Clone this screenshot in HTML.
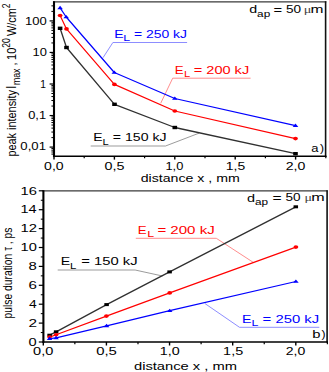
<!DOCTYPE html>
<html><head><meta charset="utf-8"><style>
html,body{margin:0;padding:0;background:#fff;}
body{width:329px;height:372px;overflow:hidden;}
svg{display:block;}
text{font-family:"Liberation Sans",sans-serif;}
</style></head><body>
<svg width="329" height="372" viewBox="0 0 329 372">
<rect width="329" height="372" fill="#fff"/>
<line x1="53.00" y1="1.80" x2="326.30" y2="1.80" stroke="#3a3a3a" stroke-width="1.3"/>
<line x1="325.60" y1="1.20" x2="325.60" y2="157.00" stroke="#111" stroke-width="1.6"/>
<line x1="53.00" y1="156.30" x2="326.40" y2="156.30" stroke="#000" stroke-width="1.5"/>
<line x1="54.00" y1="1.20" x2="54.00" y2="157.10" stroke="#000" stroke-width="2.1"/>
<line x1="51.40" y1="154.10" x2="54.00" y2="154.10" stroke="#000" stroke-width="1.0"/>
<line x1="51.40" y1="151.99" x2="54.00" y2="151.99" stroke="#000" stroke-width="1.0"/>
<line x1="51.40" y1="150.16" x2="54.00" y2="150.16" stroke="#000" stroke-width="1.0"/>
<line x1="51.40" y1="148.54" x2="54.00" y2="148.54" stroke="#000" stroke-width="1.0"/>
<line x1="49.60" y1="147.10" x2="54.00" y2="147.10" stroke="#000" stroke-width="1.2"/>
<line x1="51.40" y1="137.60" x2="54.00" y2="137.60" stroke="#000" stroke-width="1.0"/>
<line x1="51.40" y1="132.05" x2="54.00" y2="132.05" stroke="#000" stroke-width="1.0"/>
<line x1="51.40" y1="128.11" x2="54.00" y2="128.11" stroke="#000" stroke-width="1.0"/>
<line x1="51.40" y1="125.05" x2="54.00" y2="125.05" stroke="#000" stroke-width="1.0"/>
<line x1="51.40" y1="122.55" x2="54.00" y2="122.55" stroke="#000" stroke-width="1.0"/>
<line x1="51.40" y1="120.44" x2="54.00" y2="120.44" stroke="#000" stroke-width="1.0"/>
<line x1="51.40" y1="118.61" x2="54.00" y2="118.61" stroke="#000" stroke-width="1.0"/>
<line x1="51.40" y1="116.99" x2="54.00" y2="116.99" stroke="#000" stroke-width="1.0"/>
<line x1="49.60" y1="115.55" x2="54.00" y2="115.55" stroke="#000" stroke-width="1.2"/>
<line x1="51.40" y1="106.05" x2="54.00" y2="106.05" stroke="#000" stroke-width="1.0"/>
<line x1="51.40" y1="100.50" x2="54.00" y2="100.50" stroke="#000" stroke-width="1.0"/>
<line x1="51.40" y1="96.56" x2="54.00" y2="96.56" stroke="#000" stroke-width="1.0"/>
<line x1="51.40" y1="93.50" x2="54.00" y2="93.50" stroke="#000" stroke-width="1.0"/>
<line x1="51.40" y1="91.00" x2="54.00" y2="91.00" stroke="#000" stroke-width="1.0"/>
<line x1="51.40" y1="88.89" x2="54.00" y2="88.89" stroke="#000" stroke-width="1.0"/>
<line x1="51.40" y1="87.06" x2="54.00" y2="87.06" stroke="#000" stroke-width="1.0"/>
<line x1="51.40" y1="85.44" x2="54.00" y2="85.44" stroke="#000" stroke-width="1.0"/>
<line x1="49.60" y1="84.00" x2="54.00" y2="84.00" stroke="#000" stroke-width="1.2"/>
<line x1="51.40" y1="74.50" x2="54.00" y2="74.50" stroke="#000" stroke-width="1.0"/>
<line x1="51.40" y1="68.95" x2="54.00" y2="68.95" stroke="#000" stroke-width="1.0"/>
<line x1="51.40" y1="65.01" x2="54.00" y2="65.01" stroke="#000" stroke-width="1.0"/>
<line x1="51.40" y1="61.95" x2="54.00" y2="61.95" stroke="#000" stroke-width="1.0"/>
<line x1="51.40" y1="59.45" x2="54.00" y2="59.45" stroke="#000" stroke-width="1.0"/>
<line x1="51.40" y1="57.34" x2="54.00" y2="57.34" stroke="#000" stroke-width="1.0"/>
<line x1="51.40" y1="55.51" x2="54.00" y2="55.51" stroke="#000" stroke-width="1.0"/>
<line x1="51.40" y1="53.89" x2="54.00" y2="53.89" stroke="#000" stroke-width="1.0"/>
<line x1="49.60" y1="52.45" x2="54.00" y2="52.45" stroke="#000" stroke-width="1.2"/>
<line x1="51.40" y1="42.95" x2="54.00" y2="42.95" stroke="#000" stroke-width="1.0"/>
<line x1="51.40" y1="37.40" x2="54.00" y2="37.40" stroke="#000" stroke-width="1.0"/>
<line x1="51.40" y1="33.46" x2="54.00" y2="33.46" stroke="#000" stroke-width="1.0"/>
<line x1="51.40" y1="30.40" x2="54.00" y2="30.40" stroke="#000" stroke-width="1.0"/>
<line x1="51.40" y1="27.90" x2="54.00" y2="27.90" stroke="#000" stroke-width="1.0"/>
<line x1="51.40" y1="25.79" x2="54.00" y2="25.79" stroke="#000" stroke-width="1.0"/>
<line x1="51.40" y1="23.96" x2="54.00" y2="23.96" stroke="#000" stroke-width="1.0"/>
<line x1="51.40" y1="22.34" x2="54.00" y2="22.34" stroke="#000" stroke-width="1.0"/>
<line x1="49.60" y1="20.90" x2="54.00" y2="20.90" stroke="#000" stroke-width="1.2"/>
<line x1="51.40" y1="11.40" x2="54.00" y2="11.40" stroke="#000" stroke-width="1.0"/>
<line x1="51.40" y1="5.85" x2="54.00" y2="5.85" stroke="#000" stroke-width="1.0"/>
<line x1="54.00" y1="156.00" x2="54.00" y2="159.60" stroke="#000" stroke-width="1.4"/>
<line x1="84.20" y1="156.00" x2="84.20" y2="158.30" stroke="#000" stroke-width="1.2"/>
<line x1="114.40" y1="156.00" x2="114.40" y2="159.60" stroke="#000" stroke-width="1.4"/>
<line x1="144.60" y1="156.00" x2="144.60" y2="158.30" stroke="#000" stroke-width="1.2"/>
<line x1="174.80" y1="156.00" x2="174.80" y2="159.60" stroke="#000" stroke-width="1.4"/>
<line x1="205.00" y1="156.00" x2="205.00" y2="158.30" stroke="#000" stroke-width="1.2"/>
<line x1="235.20" y1="156.00" x2="235.20" y2="159.60" stroke="#000" stroke-width="1.4"/>
<line x1="265.40" y1="156.00" x2="265.40" y2="158.30" stroke="#000" stroke-width="1.2"/>
<line x1="295.60" y1="156.00" x2="295.60" y2="159.60" stroke="#000" stroke-width="1.4"/>
<line x1="325.80" y1="156.00" x2="325.80" y2="158.30" stroke="#000" stroke-width="1.2"/>
<text transform="translate(24.92,24.60) scale(1.2825,1)" font-size="10.18" fill="#000">100</text>
<text transform="translate(32.53,55.90) scale(1.2528,1)" font-size="10.32" fill="#000">10</text>
<text transform="translate(40.14,87.70) scale(0.9581,1)" font-size="10.62" fill="#000">1</text>
<text transform="translate(28.18,118.70) scale(1.2157,1)" font-size="10.61" fill="#000">0,1</text>
<text transform="translate(20.37,150.40) scale(1.2382,1)" font-size="10.61" fill="#000">0,01</text>
<text transform="translate(44.04,169.90) scale(1.2936,1)" font-size="10.90" fill="#000">0,0</text>
<text transform="translate(104.43,169.90) scale(1.3171,1)" font-size="10.90" fill="#000">0,5</text>
<text transform="translate(165.44,169.90) scale(1.1782,1)" font-size="10.90" fill="#000">1,0</text>
<text transform="translate(225.75,169.90) scale(1.2629,1)" font-size="11.05" fill="#000">1,5</text>
<text transform="translate(285.69,169.90) scale(1.2965,1)" font-size="10.90" fill="#000">2,0</text>
<text transform="translate(140.70,182.20) scale(1.3157,1)" font-size="10.76" fill="#000">distance x , mm</text>
<text transform="translate(16.00,156.60) scale(1.25,1) rotate(-90)" font-size="10.9" fill="#000">peak intensity</text>
<text transform="translate(15.90,88.70) scale(1.35,1) rotate(-90)" font-size="10.9" fill="#000">I</text>
<text transform="translate(20.40,85.10) scale(1.33,1) rotate(-90)" font-size="8.8" fill="#000">max</text>
<text transform="translate(16.00,65.40) scale(1.25,1) rotate(-90)" font-size="10.9" fill="#000">,</text>
<text transform="translate(16.00,59.90) scale(1.25,1) rotate(-90)" font-size="10.9" fill="#000">10</text>
<text transform="translate(9.90,47.80) scale(1.25,1) rotate(-90)" font-size="8.6" fill="#000">20</text>
<text transform="translate(16.00,36.10) scale(1.25,1) rotate(-90)" font-size="10.9" fill="#000">W/cm</text>
<text transform="translate(9.90,8.30) scale(1.25,1) rotate(-90)" font-size="8.6" fill="#000">2</text>
<text transform="translate(249.20,13.40) scale(1.3052,1)" font-size="10.90" fill="#000">d</text>
<text transform="translate(257.10,16.90) scale(1.3693,1)" font-size="8.60" fill="#000">ap</text>
<text transform="translate(273.40,13.70) scale(1.4066,1)" font-size="10.50" fill="#000">=</text>
<text transform="translate(286.06,13.00) scale(1.2781,1)" font-size="10.61" fill="#000">50</text>
<text transform="translate(303.86,13.00) scale(1.3540,1)" font-size="10.50" fill="#444" style="font-family:'Liberation Serif',serif">μ</text>
<text transform="translate(310.45,13.00) scale(1.4830,1)" font-size="10.50" fill="#000">m</text>
<text transform="translate(311.25,152.30) scale(1.2390,1)" font-size="10.50" fill="#000">a</text>
<text transform="translate(320.01,152.20) scale(1.1500,1)" font-size="10.50" fill="#000">)</text>
<polyline points="103.00,57.70 112.90,42.50 187.10,42.50" fill="none" stroke="#8080ff" stroke-width="0.9" stroke-linejoin="round"/>
<polyline points="160.70,103.30 172.70,78.20 250.60,78.20" fill="none" stroke="#ff8080" stroke-width="0.9" stroke-linejoin="round"/>
<polyline points="90.70,146.00 165.50,146.00 199.20,133.10" fill="none" stroke="#909090" stroke-width="0.9" stroke-linejoin="round"/>
<polyline points="60.10,28.30 66.50,47.50 114.50,104.30 174.80,127.50 295.50,153.70" fill="none" stroke="#303030" stroke-width="1.3" stroke-linejoin="round"/>
<polyline points="60.10,15.50 66.50,28.90 114.40,84.40 174.80,111.00 295.50,138.60" fill="none" stroke="#f00" stroke-width="1.2" stroke-linejoin="round"/>
<polyline points="60.10,7.80 66.20,17.00 114.30,72.50 174.80,98.50 295.50,125.60" fill="none" stroke="#00f" stroke-width="1.2" stroke-linejoin="round"/>
<rect x="57.80" y="26.60" width="4.6" height="3.4" fill="#000"/>
<rect x="64.20" y="45.80" width="4.6" height="3.4" fill="#000"/>
<rect x="112.20" y="102.60" width="4.6" height="3.4" fill="#000"/>
<rect x="172.50" y="125.80" width="4.6" height="3.4" fill="#000"/>
<rect x="293.20" y="152.00" width="4.6" height="3.4" fill="#000"/>
<ellipse cx="60.10" cy="15.50" rx="2.4" ry="1.8" fill="#f00"/>
<ellipse cx="66.50" cy="28.90" rx="2.4" ry="1.8" fill="#f00"/>
<ellipse cx="114.40" cy="84.40" rx="2.4" ry="1.8" fill="#f00"/>
<ellipse cx="174.80" cy="111.00" rx="2.4" ry="1.8" fill="#f00"/>
<ellipse cx="295.50" cy="138.60" rx="2.4" ry="1.8" fill="#f00"/>
<polygon points="60.10,5.76 62.90,9.16 57.30,9.16" fill="#00f"/>
<polygon points="66.20,14.96 69.00,18.36 63.40,18.36" fill="#00f"/>
<polygon points="114.30,70.46 117.10,73.86 111.50,73.86" fill="#00f"/>
<polygon points="174.80,96.46 177.60,99.86 172.00,99.86" fill="#00f"/>
<polygon points="295.50,123.56 298.30,126.96 292.70,126.96" fill="#00f"/>
<text transform="translate(114.14,37.60) scale(1.3342,1)" font-size="10.50" fill="#00f">E</text>
<text transform="translate(123.19,41.00) scale(1.4271,1)" font-size="8.60" fill="#00f">L</text>
<text transform="translate(133.94,37.60) scale(1.3284,1)" font-size="10.50" fill="#00f">= 250 kJ</text>
<text transform="translate(174.81,73.50) scale(1.2640,1)" font-size="10.50" fill="#f00">E</text>
<text transform="translate(184.08,76.60) scale(1.2949,1)" font-size="8.60" fill="#f00">L</text>
<text transform="translate(193.81,73.50) scale(1.3853,1)" font-size="10.50" fill="#f00">= 200 kJ</text>
<text transform="translate(93.24,141.10) scale(1.3342,1)" font-size="10.50" fill="#000">E</text>
<text transform="translate(102.58,144.60) scale(1.2949,1)" font-size="8.60" fill="#000">L</text>
<text transform="translate(112.83,141.10) scale(1.3439,1)" font-size="10.50" fill="#000">= 150 kJ</text>
<line x1="42.50" y1="190.90" x2="327.60" y2="190.90" stroke="#3a3a3a" stroke-width="1.3"/>
<line x1="327.10" y1="190.30" x2="327.10" y2="342.60" stroke="#111" stroke-width="1.6"/>
<line x1="42.50" y1="341.90" x2="327.90" y2="341.90" stroke="#000" stroke-width="1.5"/>
<line x1="43.40" y1="190.30" x2="43.40" y2="342.80" stroke="#000" stroke-width="2.1"/>
<line x1="38.80" y1="342.00" x2="43.40" y2="342.00" stroke="#000" stroke-width="1.2"/>
<line x1="40.80" y1="332.55" x2="43.40" y2="332.55" stroke="#000" stroke-width="1.0"/>
<line x1="38.80" y1="323.10" x2="43.40" y2="323.10" stroke="#000" stroke-width="1.2"/>
<line x1="40.80" y1="313.65" x2="43.40" y2="313.65" stroke="#000" stroke-width="1.0"/>
<line x1="38.80" y1="304.20" x2="43.40" y2="304.20" stroke="#000" stroke-width="1.2"/>
<line x1="40.80" y1="294.75" x2="43.40" y2="294.75" stroke="#000" stroke-width="1.0"/>
<line x1="38.80" y1="285.30" x2="43.40" y2="285.30" stroke="#000" stroke-width="1.2"/>
<line x1="40.80" y1="275.85" x2="43.40" y2="275.85" stroke="#000" stroke-width="1.0"/>
<line x1="38.80" y1="266.40" x2="43.40" y2="266.40" stroke="#000" stroke-width="1.2"/>
<line x1="40.80" y1="256.95" x2="43.40" y2="256.95" stroke="#000" stroke-width="1.0"/>
<line x1="38.80" y1="247.50" x2="43.40" y2="247.50" stroke="#000" stroke-width="1.2"/>
<line x1="40.80" y1="238.05" x2="43.40" y2="238.05" stroke="#000" stroke-width="1.0"/>
<line x1="38.80" y1="228.60" x2="43.40" y2="228.60" stroke="#000" stroke-width="1.2"/>
<line x1="40.80" y1="219.15" x2="43.40" y2="219.15" stroke="#000" stroke-width="1.0"/>
<line x1="38.80" y1="209.70" x2="43.40" y2="209.70" stroke="#000" stroke-width="1.2"/>
<line x1="40.80" y1="200.25" x2="43.40" y2="200.25" stroke="#000" stroke-width="1.0"/>
<line x1="38.80" y1="190.80" x2="43.40" y2="190.80" stroke="#000" stroke-width="1.2"/>
<line x1="43.30" y1="342.00" x2="43.30" y2="345.50" stroke="#000" stroke-width="1.4"/>
<line x1="74.86" y1="342.00" x2="74.86" y2="344.20" stroke="#000" stroke-width="1.2"/>
<line x1="106.42" y1="342.00" x2="106.42" y2="345.50" stroke="#000" stroke-width="1.4"/>
<line x1="137.99" y1="342.00" x2="137.99" y2="344.20" stroke="#000" stroke-width="1.2"/>
<line x1="169.55" y1="342.00" x2="169.55" y2="345.50" stroke="#000" stroke-width="1.4"/>
<line x1="201.11" y1="342.00" x2="201.11" y2="344.20" stroke="#000" stroke-width="1.2"/>
<line x1="232.68" y1="342.00" x2="232.68" y2="345.50" stroke="#000" stroke-width="1.4"/>
<line x1="264.24" y1="342.00" x2="264.24" y2="344.20" stroke="#000" stroke-width="1.2"/>
<line x1="295.80" y1="342.00" x2="295.80" y2="345.50" stroke="#000" stroke-width="1.4"/>
<line x1="327.36" y1="342.00" x2="327.36" y2="344.20" stroke="#000" stroke-width="1.2"/>
<text transform="translate(28.61,345.75) scale(1.3454,1)" font-size="10.90" fill="#000">0</text>
<text transform="translate(28.43,326.85) scale(1.4119,1)" font-size="10.90" fill="#000">2</text>
<text transform="translate(28.89,307.95) scale(1.2539,1)" font-size="11.05" fill="#000">4</text>
<text transform="translate(28.44,289.05) scale(1.3890,1)" font-size="10.90" fill="#000">6</text>
<text transform="translate(28.57,270.15) scale(1.3669,1)" font-size="10.90" fill="#000">8</text>
<text transform="translate(20.50,251.25) scale(1.3433,1)" font-size="10.90" fill="#000">10</text>
<text transform="translate(20.49,232.35) scale(1.3603,1)" font-size="10.90" fill="#000">12</text>
<text transform="translate(20.51,213.45) scale(1.3109,1)" font-size="11.05" fill="#000">14</text>
<text transform="translate(20.50,194.55) scale(1.3501,1)" font-size="10.90" fill="#000">16</text>
<text transform="translate(33.12,355.20) scale(1.3717,1)" font-size="10.61" fill="#000">0,0</text>
<text transform="translate(96.20,355.20) scale(1.4031,1)" font-size="10.61" fill="#000">0,5</text>
<text transform="translate(159.83,355.20) scale(1.3502,1)" font-size="10.61" fill="#000">1,0</text>
<text transform="translate(223.12,355.20) scale(1.3408,1)" font-size="10.76" fill="#000">1,5</text>
<text transform="translate(285.70,355.20) scale(1.3243,1)" font-size="10.61" fill="#000">2,0</text>
<text transform="translate(133.97,369.60) scale(1.3874,1)" font-size="10.62" fill="#000">distance x , mm</text>
<text transform="translate(11.60,318.40) scale(1.31,1) rotate(-90)" font-size="10.3" fill="#000">pulse duration <tspan font-size="9.4">τ</tspan> , ps</text>
<text transform="translate(247.09,201.80) scale(1.3600,1)" font-size="10.62" fill="#000">d</text>
<text transform="translate(255.00,204.80) scale(1.3693,1)" font-size="8.60" fill="#000">ap</text>
<text transform="translate(272.46,201.50) scale(1.4847,1)" font-size="10.50" fill="#000">=</text>
<text transform="translate(285.56,201.00) scale(1.2914,1)" font-size="10.50" fill="#000">50</text>
<text transform="translate(304.48,201.00) scale(1.3310,1)" font-size="10.50" fill="#444" style="font-family:'Liberation Serif',serif">μ</text>
<text transform="translate(311.21,201.00) scale(1.5374,1)" font-size="10.50" fill="#000">m</text>
<text transform="translate(312.13,338.40) scale(1.4203,1)" font-size="10.48" fill="#000">b</text>
<text transform="translate(321.61,337.80) scale(1.1500,1)" font-size="10.50" fill="#000">)</text>
<polyline points="57.70,270.00 135.10,270.00 162.50,276.00" fill="none" stroke="#909090" stroke-width="0.9" stroke-linejoin="round"/>
<polyline points="135.80,238.30 216.30,238.30 253.30,262.40" fill="none" stroke="#ff8080" stroke-width="0.9" stroke-linejoin="round"/>
<polyline points="204.90,303.50 239.50,327.30 319.30,327.30" fill="none" stroke="#8080ff" stroke-width="0.9" stroke-linejoin="round"/>
<polyline points="49.60,335.20 56.10,331.80 106.60,304.60 169.60,271.90 295.80,206.80" fill="none" stroke="#303030" stroke-width="1.3" stroke-linejoin="round"/>
<polyline points="49.60,337.10 56.10,334.80 106.40,316.10 169.70,292.90 295.90,247.10" fill="none" stroke="#f00" stroke-width="1.2" stroke-linejoin="round"/>
<polyline points="49.60,338.60 56.10,337.90 106.60,325.80 169.70,310.70 295.90,281.50" fill="none" stroke="#00f" stroke-width="1.2" stroke-linejoin="round"/>
<rect x="47.35" y="333.70" width="4.5" height="3.0" fill="#000"/>
<rect x="53.85" y="330.30" width="4.5" height="3.0" fill="#000"/>
<rect x="104.35" y="303.10" width="4.5" height="3.0" fill="#000"/>
<rect x="167.35" y="270.40" width="4.5" height="3.0" fill="#000"/>
<rect x="293.55" y="205.30" width="4.5" height="3.0" fill="#000"/>
<ellipse cx="49.60" cy="337.10" rx="2.4" ry="1.8" fill="#f00"/>
<ellipse cx="56.10" cy="334.80" rx="2.4" ry="1.8" fill="#f00"/>
<ellipse cx="106.40" cy="316.10" rx="2.4" ry="1.8" fill="#f00"/>
<ellipse cx="169.70" cy="292.90" rx="2.4" ry="1.8" fill="#f00"/>
<ellipse cx="295.90" cy="247.10" rx="2.4" ry="1.8" fill="#f00"/>
<polygon points="49.60,336.56 52.40,339.96 46.80,339.96" fill="#00f"/>
<polygon points="56.10,335.86 58.90,339.26 53.30,339.26" fill="#00f"/>
<polygon points="106.60,323.76 109.40,327.16 103.80,327.16" fill="#00f"/>
<polygon points="169.70,308.66 172.50,312.06 166.90,312.06" fill="#00f"/>
<polygon points="295.90,279.46 298.70,282.86 293.10,282.86" fill="#00f"/>
<text transform="translate(60.73,265.10) scale(1.3518,1)" font-size="10.50" fill="#000">E</text>
<text transform="translate(70.06,268.60) scale(1.3214,1)" font-size="8.60" fill="#000">L</text>
<text transform="translate(81.30,265.10) scale(1.4085,1)" font-size="10.50" fill="#000">= 150 kJ</text>
<text transform="translate(137.71,233.70) scale(1.2640,1)" font-size="10.50" fill="#f00">E</text>
<text transform="translate(147.19,236.80) scale(1.4271,1)" font-size="8.60" fill="#f00">L</text>
<text transform="translate(157.38,233.70) scale(1.4344,1)" font-size="10.50" fill="#f00">= 200 kJ</text>
<text transform="translate(242.03,322.60) scale(1.3518,1)" font-size="10.50" fill="#00f">E</text>
<text transform="translate(251.39,325.50) scale(1.4271,1)" font-size="8.60" fill="#00f">L</text>
<text transform="translate(262.59,322.60) scale(1.4163,1)" font-size="10.50" fill="#00f">= 250 kJ</text>
</svg>
</body></html>
